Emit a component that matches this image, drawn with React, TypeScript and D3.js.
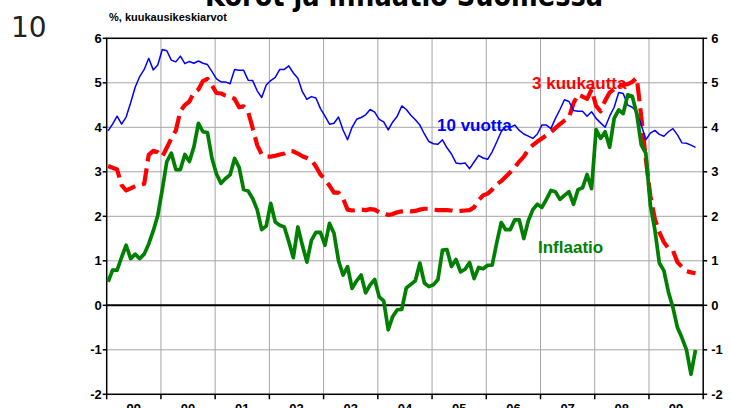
import React from "react";
import * as d3 from "d3";

const yearLabels = ["99", "00", "01", "02", "03", "04", "05", "06", "07", "08", "09"];
const yTicks = [-2, -1, 0, 1, 2, 3, 4, 5, 6];

// Monthly values Jan 1999 .. Nov 2009
const bond10y = [
  3.92, 4.07, 4.25, 4.07, 4.23, 4.55, 4.9, 5.14, 5.3, 5.55, 5.29, 5.4,
  5.75, 5.72, 5.51, 5.47, 5.6, 5.43, 5.48, 5.44, 5.49, 5.44, 5.41, 5.25,
  5.09, 5.02, 5.02, 4.98, 5.3, 5.28, 5.28, 5.06, 5.05, 4.82, 4.67, 4.95,
  5.05, 5.12, 5.3, 5.3, 5.38, 5.22, 5.1, 4.8, 4.63, 4.69, 4.66, 4.42,
  4.25, 4.07, 4.09, 4.23, 3.94, 3.72, 4.0, 4.18, 4.22, 4.28, 4.4, 4.34,
  4.18, 4.12, 3.94, 4.12, 4.25, 4.48, 4.4, 4.27, 4.17, 4.05, 3.85, 3.68,
  3.63, 3.62, 3.72, 3.54, 3.4, 3.2, 3.18, 3.2, 3.07, 3.22, 3.37, 3.31,
  3.28, 3.45, 3.67, 3.9, 4.03, 4.0, 4.05, 3.93, 3.85, 3.8, 3.75, 3.85,
  4.05, 4.05, 3.97, 4.2, 4.4, 4.62, 4.58, 4.38, 4.36, 4.36, 4.25, 4.35,
  4.2, 4.1, 4.0, 4.25, 4.45, 4.78, 4.76, 4.5, 4.45, 4.35, 4.05, 3.72,
  3.87, 3.93, 3.84, 3.8, 3.9, 3.97, 3.83, 3.65, 3.64, 3.6, 3.55,
];

const rate3m = [
  3.13, 3.09, 3.05, 2.7, 2.58, 2.63, 2.68, 2.7, 2.73, 3.38, 3.47, 3.44,
  3.34, 3.54, 3.75, 3.93, 4.36, 4.5, 4.58, 4.78, 4.85, 5.04, 5.09, 4.94,
  4.77, 4.76, 4.71, 4.68, 4.64, 4.45, 4.47, 4.35, 3.98, 3.6, 3.39, 3.34,
  3.34, 3.36, 3.39, 3.41, 3.47, 3.46, 3.41, 3.35, 3.31, 3.26, 3.12, 2.94,
  2.83, 2.69, 2.53, 2.53, 2.4, 2.15, 2.13, 2.14, 2.15, 2.14, 2.16, 2.15,
  2.09, 2.07, 2.03, 2.05, 2.09, 2.11, 2.12, 2.11, 2.12, 2.15, 2.17, 2.17,
  2.15, 2.14, 2.14, 2.14, 2.13, 2.11, 2.12, 2.13, 2.14, 2.2, 2.36, 2.47,
  2.51, 2.6, 2.72, 2.79, 2.89, 2.99, 3.1, 3.23, 3.34, 3.5, 3.6, 3.68,
  3.75, 3.82, 3.89, 3.98, 4.07, 4.15, 4.22, 4.54, 4.74, 4.69, 4.64, 4.85,
  4.48, 4.36, 4.6, 4.78, 4.86, 4.94, 4.96, 4.97, 5.02, 5.11, 4.24, 3.29,
  2.46, 1.94, 1.64, 1.42, 1.28, 1.23, 0.97, 0.86, 0.77, 0.74, 0.72,
];

const inflation = [
  0.53, 0.79, 0.79, 1.08, 1.35, 1.05, 1.15, 1.05, 1.15, 1.38, 1.67, 2.02,
  2.6, 3.23, 3.42, 3.05, 3.05, 3.39, 3.23, 3.56, 4.09, 3.9, 3.88, 3.3,
  2.95, 2.74, 2.85, 2.93, 3.3, 3.1, 2.6, 2.57, 2.4, 2.15, 1.7, 1.78,
  2.29, 1.87, 1.8, 1.76, 1.43, 1.07, 1.76, 1.35, 0.97, 1.46, 1.64, 1.64,
  1.35, 1.84, 1.62, 1.0, 0.68, 0.87, 0.38, 0.55, 0.68, 0.28, 0.46, 0.58,
  0.19, 0.1, -0.55, -0.25, -0.1, -0.09, 0.39, 0.47, 0.55, 0.95, 0.5, 0.42,
  0.46, 0.58, 1.24, 1.25, 0.87, 1.03, 0.75, 0.81, 0.96, 0.6, 0.85, 0.82,
  0.9, 0.9, 1.4, 1.86, 1.7, 1.7, 1.92, 1.92, 1.5, 1.9, 2.15, 2.27,
  2.2, 2.38, 2.58, 2.55, 2.38, 2.47, 2.55, 2.27, 2.6, 2.64, 2.94, 2.62,
  3.95, 3.75, 3.9, 3.55, 4.2, 4.39, 4.31, 4.73, 4.7, 4.3, 3.6, 3.42,
  2.25, 1.7, 0.95, 0.78, 0.3, -0.05, -0.5, -0.73, -1.0, -1.55, -1.0,
];

const W = 730;
const H = 408;
const X0 = 106.7;
const X1 = 703.2;
const Y0 = 394.3;
const Y1 = 38.3;

export default function App() {
  const x = d3.scaleLinear().domain([0, yearLabels.length * 12]).range([X0, X1]);
  const y = d3.scaleLinear().domain([-2, 6]).range([Y0, Y1]);
  const line = d3
    .line<number>()
    .x((_, i) => x(i + 0.3))
    .y((d) => y(d));

  const font = "'Liberation Sans', Arial, sans-serif";
  const years = d3.range(yearLabels.length + 1);

  return (
    <svg
      width={W}
      height={H}
      style={{ position: "absolute", left: 0, top: 0, background: "#fff" }}
    >
      <rect x={0} y={0} width={W} height={H} fill="#fff" />
      {/* title (cut at top) */}
      <text
        x={205}
        y={6}
        fontFamily="'DejaVu Sans', Verdana, sans-serif"
        fontSize={30}
        fontWeight="bold"
        textLength={398}
        lengthAdjust="spacingAndGlyphs"
        fill="#000"
      >
        Korot ja inflaatio Suomessa
      </text>
      <text x={11} y={37} fontFamily="'DejaVu Sans', sans-serif" fontSize={28} fill="#222">
        10
      </text>
      <text x={109} y={21} fontFamily={font} fontSize={11} fontWeight="bold" fill="#000">
        %, kuukausikeskiarvot
      </text>

      {/* gridlines */}
      {yTicks.map((t) => (
        <line key={"h" + t} x1={X0} x2={X1} y1={y(t)} y2={y(t)} stroke="#a6a6a6" strokeWidth={1} />
      ))}
      {years.slice(1, -1).map((k) => (
        <line key={"v" + k} x1={x(k * 12)} x2={x(k * 12)} y1={Y1} y2={Y0} stroke="#a6a6a6" strokeWidth={1} />
      ))}

      {/* frame, zero line */}
      <rect x={X0} y={Y1} width={X1 - X0} height={Y0 - Y1} fill="none" stroke="#000" strokeWidth={1.5} />
      <line x1={X0} x2={X1} y1={y(0)} y2={y(0)} stroke="#000" strokeWidth={2} />

      {/* ticks */}
      {yTicks.map((t) => (
        <g key={"t" + t}>
          <line x1={X0 - 4} x2={X0} y1={y(t)} y2={y(t)} stroke="#000" strokeWidth={1.5} />
          <line x1={X1} x2={X1 + 4} y1={y(t)} y2={y(t)} stroke="#000" strokeWidth={1.5} />
          <text x={X0 - 5} y={y(t) + 4.5} textAnchor="end" fontFamily={font} fontSize={13} fontWeight="bold">
            {t}
          </text>
          <text x={X1 + 8} y={y(t) + 4.5} textAnchor="start" fontFamily={font} fontSize={13} fontWeight="bold">
            {t}
          </text>
        </g>
      ))}
      {years.map((k) => (
        <line key={"xt" + k} x1={x(k * 12)} x2={x(k * 12)} y1={Y0} y2={Y0 + 5} stroke="#000" strokeWidth={1.5} />
      ))}
      {yearLabels.map((l, k) => (
        <text
          key={"xl" + l}
          x={x(k * 12 + 6)}
          y={412.5}
          textAnchor="middle"
          fontFamily={font}
          fontSize={13}
          fontWeight="bold"
        >
          {l}
        </text>
      ))}

      {/* series */}
      <path d={line(rate3m) || ""} fill="none" stroke="#ff0000" strokeWidth={4.2} strokeDasharray="18,7" strokeLinejoin="round" />
      <path d={line(bond10y) || ""} fill="none" stroke="#0000ff" strokeWidth={1.5} strokeLinejoin="round" />
      <path d={line(inflation) || ""} fill="none" stroke="#008000" strokeWidth={3.7} strokeLinejoin="round" />

      {/* labels */}
      <text x={437} y={130.5} fontFamily={font} fontSize={17} fontWeight="bold" fill="#0000ff">
        10 vuotta
      </text>
      <text x={532} y={88.5} fontFamily={font} fontSize={17} fontWeight="bold" fill="#ff0000">
        3 kuukautta
      </text>
      <text x={538} y={253} fontFamily={font} fontSize={17} fontWeight="bold" fill="#008000">
        Inflaatio
      </text>
    </svg>
  );
}
